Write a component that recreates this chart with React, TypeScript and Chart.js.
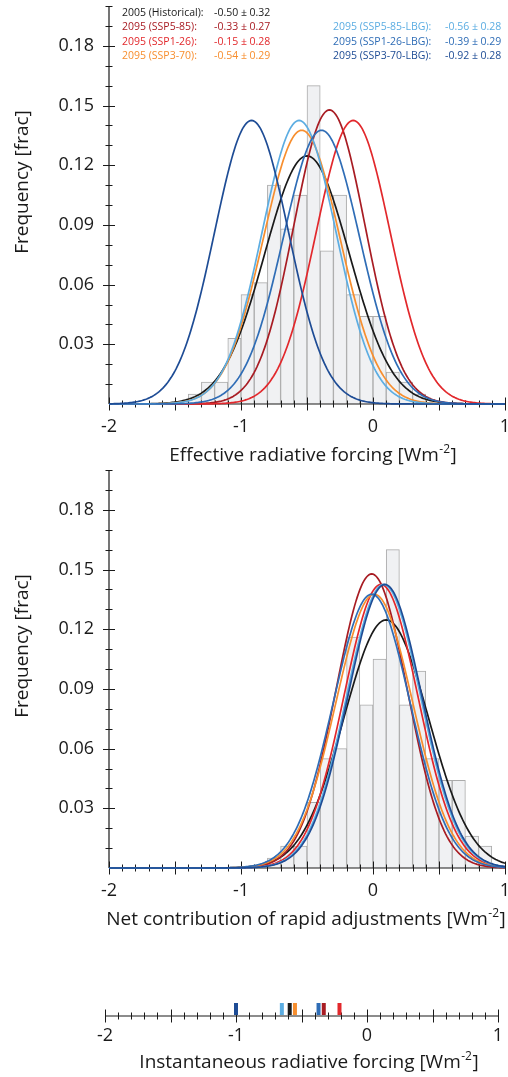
import React, { useEffect, useRef } from 'react';
import { Chart, registerables } from 'chart.js';

Chart.register(...registerables);

// ---------------- DATA ----------------
const seriesNames = [
  '2005 (Historical):',
  '2095 (SSP5-85):',
  '2095 (SSP1-26):',
  '2095 (SSP3-70):',
  '2095 (SSP5-85-LBG):',
  '2095 (SSP1-26-LBG):',
  '2095 (SSP3-70-LBG):',
];
const seriesColors = ['#1a1a1a', '#a81c23', '#e2282c', '#f78e2e', '#5cade2', '#2f6db6', '#1e4c95'];

// Fitted normal distributions (mean ± sd) shown as curves
const erfMeans = [-0.5, -0.33, -0.15, -0.54, -0.56, -0.39, -0.92];
const erfSigmas = [0.32, 0.27, 0.28, 0.29, 0.28, 0.29, 0.28];
const adjMeans = [0.1, -0.01, 0.06, 0.01, 0.08, -0.01, 0.09];
const adjSigmas = [0.32, 0.27, 0.28, 0.29, 0.28, 0.29, 0.28];

// Instantaneous radiative forcing values (strip marks)
const irfValues = [-0.59, -0.33, -0.21, -0.55, -0.65, -0.37, -1.0];

// Histograms (bin width 0.1)
const binWidth = 0.1;
const erfBinCenters = [-1.35, -1.25, -1.15, -1.05, -0.95, -0.85, -0.75, -0.65, -0.55, -0.45, -0.35, -0.25, -0.15, -0.05, 0.05, 0.15, 0.25, 0.35];
const erfFreq = [0.005, 0.011, 0.011, 0.033, 0.055, 0.061, 0.11, 0.088, 0.105, 0.16, 0.077, 0.105, 0.055, 0.044, 0.044, 0.016, 0.011, 0.005];
const adjBinCenters = [-0.75, -0.65, -0.55, -0.45, -0.35, -0.25, -0.15, -0.05, 0.05, 0.15, 0.25, 0.35, 0.45, 0.55, 0.65, 0.75, 0.85];
const adjFreq = [0.005, 0.011, 0.011, 0.033, 0.055, 0.06, 0.116, 0.082, 0.105, 0.16, 0.082, 0.099, 0.055, 0.044, 0.044, 0.016, 0.011];

// Axis ticks
const xTickValues = [-2, -1, 0, 1];
const xTickLabels = ['-2', '-1', '0', '1'];
const yTickValues = [0.03, 0.06, 0.09, 0.12, 0.15, 0.18];
const yTickLabels = ['0.03', '0.06', '0.09', '0.12', '0.15', '0.18'];
const xMin = -2;
const xMax = 1;
const yMax = 0.2;

const xTitles = ['Effective radiative forcing [Wm', 'Net contribution of rapid adjustments [Wm', 'Instantaneous radiative forcing [Wm'];
const unitSup = '-2';
const unitPost = ']';
const yTitle = 'Frequency [frac]';

// ---------------- HELPERS ----------------
const FONT = '"Open Sans", "Noto Sans", sans-serif';
const AXIS_COLOR = '#1a1a1a';
const TICK_SIZE = 18;
const TITLE_SIZE = 19;

function gaussCurve(m: number, s: number) {
  const pts: { x: number; y: number }[] = [];
  for (let i = 0; i <= 300; i++) {
    const x = xMin + (i * (xMax - xMin)) / 300;
    const y = (binWidth * Math.exp(-0.5 * ((x - m) / s) ** 2)) / (s * Math.sqrt(2 * Math.PI));
    pts.push({ x, y });
  }
  return pts;
}

function xLabel(v: number) {
  const i = xTickValues.findIndex((t) => Math.abs(t - v) < 1e-6);
  return i >= 0 ? xTickLabels[i] : '';
}
function yLabel(v: number) {
  const i = yTickValues.findIndex((t) => Math.abs(t - v) < 1e-6);
  return i >= 0 ? yTickLabels[i] : '';
}
function isMajorX(v: number) {
  return Math.abs(v * 2 - Math.round(v * 2)) < 1e-6;
}

function drawXAxis(ctx: CanvasRenderingContext2D, x: any, yb: number) {
  ctx.save();
  ctx.strokeStyle = AXIS_COLOR;
  ctx.lineWidth = 1.2;
  ctx.beginPath();
  ctx.moveTo(x.getPixelForValue(xMin), yb);
  ctx.lineTo(x.getPixelForValue(xMax), yb);
  ctx.stroke();
  ctx.lineWidth = 1;
  for (const t of x.ticks) {
    const px = Math.round(x.getPixelForValue(t.value)) + 0.5;
    const h = isMajorX(t.value) ? 6.5 : 3.5;
    ctx.beginPath();
    ctx.moveTo(px, yb - h);
    ctx.lineTo(px, yb + h);
    ctx.stroke();
  }
  ctx.restore();
}

function drawYAxis(ctx: CanvasRenderingContext2D, x: any, y: any) {
  const xl = x.getPixelForValue(xMin);
  ctx.save();
  ctx.strokeStyle = AXIS_COLOR;
  ctx.lineWidth = 1.2;
  ctx.beginPath();
  ctx.moveTo(xl, y.getPixelForValue(0));
  ctx.lineTo(xl, y.getPixelForValue(yMax));
  ctx.stroke();
  ctx.lineWidth = 1;
  for (const t of y.ticks) {
    if (t.value <= 0) continue;
    const py = Math.round(y.getPixelForValue(t.value)) + 0.5;
    const major = yLabel(t.value) !== '';
    const h = major ? 6 : 3.5;
    ctx.beginPath();
    ctx.moveTo(xl - h, py);
    ctx.lineTo(xl + h, py);
    ctx.stroke();
  }
  ctx.restore();
}

function drawUnitTitle(ctx: CanvasRenderingContext2D, pre: string, cx: number, baseY: number, size: number) {
  ctx.save();
  ctx.fillStyle = '#1a1a1a';
  ctx.textAlign = 'left';
  ctx.textBaseline = 'alphabetic';
  const big = `${size}px ${FONT}`;
  const small = `${Math.round(size * 0.62)}px ${FONT}`;
  ctx.font = big;
  const w1 = ctx.measureText(pre).width;
  const w3 = ctx.measureText(unitPost).width;
  ctx.font = small;
  const w2 = ctx.measureText(unitSup).width;
  const sx = cx - (w1 + w2 + w3 + 1) / 2;
  ctx.font = big;
  ctx.fillText(pre, sx, baseY);
  ctx.font = small;
  ctx.fillText(unitSup, sx + w1 + 0.5, baseY - size * 0.42);
  ctx.font = big;
  ctx.fillText(unitPost, sx + w1 + w2 + 1, baseY);
  ctx.restore();
}

function drawYTitle(ctx: CanvasRenderingContext2D, cx: number, cy: number, size: number) {
  ctx.save();
  ctx.translate(cx, cy);
  ctx.rotate(-Math.PI / 2);
  ctx.fillStyle = '#1a1a1a';
  ctx.font = `${size}px ${FONT}`;
  ctx.textAlign = 'center';
  ctx.textBaseline = 'middle';
  ctx.fillText(yTitle, 0, 0);
  ctx.restore();
}

function drawLegend(ctx: CanvasRenderingContext2D) {
  ctx.save();
  ctx.font = `10.5px ${FONT}`;
  ctx.textBaseline = 'middle';
  ctx.textAlign = 'left';
  const rowsY = [13.3, 27.5, 41.8, 56];
  const place = [
    { col: 0, row: 0 },
    { col: 0, row: 1 },
    { col: 0, row: 2 },
    { col: 0, row: 3 },
    { col: 1, row: 1 },
    { col: 1, row: 2 },
    { col: 1, row: 3 },
  ];
  const colX = [
    [122, 214],
    [333, 445],
  ];
  seriesNames.forEach((name, i) => {
    const p = place[i];
    ctx.fillStyle = seriesColors[i];
    ctx.fillText(name, colX[p.col][0], rowsY[p.row]);
    ctx.fillText(`${erfMeans[i].toFixed(2)} \u00b1 ${erfSigmas[i].toFixed(2)}`, colX[p.col][1], rowsY[p.row]);
  });
  ctx.restore();
}

function panelConfig(
  binCenters: number[],
  freq: number[],
  means: number[],
  sigmas: number[],
  titleIdx: number,
  titleCx: number,
  withLegend: boolean
): any {
  const datasets: any[] = [
    {
      type: 'bar',
      data: binCenters.map((c, i) => ({ x: c, y: freq[i] })),
      backgroundColor: '#f0f1f3',
      borderColor: '#ababab',
      borderWidth: 1,
      barPercentage: 1,
      categoryPercentage: 1,
      grouped: false,
      order: 100,
    },
  ];
  means.forEach((m, i) => {
    datasets.push({
      type: 'line',
      data: gaussCurve(m, sigmas[i]),
      borderColor: seriesColors[i],
      borderWidth: 1.7,
      pointRadius: 0,
      fill: false,
      tension: 0,
      clip: false,
      order: 50 - i,
    });
  });

  const plugin = {
    id: 'panelDeco' + titleIdx,
    afterDatasetDraw(chart: any, args: any) {
      if (args.meta.type !== 'bar') return;
      const { ctx, scales } = chart;
      drawYAxis(ctx, scales.x, scales.y);
      drawXAxis(ctx, scales.x, scales.y.getPixelForValue(0));
    },
    afterDraw(chart: any) {
      const { ctx } = chart;
      drawYTitle(ctx, 23, 182, TITLE_SIZE);
      drawUnitTitle(ctx, xTitles[titleIdx], titleCx, 460.5, TITLE_SIZE);
      if (withLegend) drawLegend(ctx);
    },
  };

  return {
    type: 'line',
    data: { datasets },
    options: {
      animation: false,
      responsive: false,
      devicePixelRatio: 1,
      events: [],
      layout: { padding: { left: 0, right: 3, top: 6, bottom: 0 } },
      plugins: { legend: { display: false }, tooltip: { enabled: false } },
      scales: {
        x: {
          type: 'linear',
          min: xMin,
          max: xMax,
          offset: false,
          grid: { display: false, drawTicks: false },
          border: { display: false },
          ticks: {
            stepSize: 0.1,
            autoSkip: false,
            maxRotation: 0,
            padding: 12,
            color: '#1a1a1a',
            font: { family: FONT, size: TICK_SIZE },
            callback: (v: number) => xLabel(v),
          },
          afterFit: (s: any) => {
            s.height = 66;
            s.paddingLeft = 0;
            s.paddingRight = 0;
          },
        },
        y: {
          type: 'linear',
          min: 0,
          max: yMax,
          grid: { display: false, drawTicks: false },
          border: { display: false },
          ticks: {
            stepSize: 0.01,
            autoSkip: false,
            padding: 15,
            color: '#1a1a1a',
            font: { family: FONT, size: TICK_SIZE },
            callback: (v: number) => yLabel(v),
          },
          afterFit: (s: any) => {
            s.width = 109;
            s.paddingTop = 0;
            s.paddingBottom = 0;
          },
        },
      },
    },
    plugins: [plugin],
  };
}

function stripConfig(): any {
  const datasets = irfValues.map((v, i) => ({
    type: 'scatter',
    data: [{ x: v, y: 0.5 }],
    pointStyle: 'line',
    rotation: 90,
    radius: 6,
    pointRadius: 6,
    borderWidth: 4,
    borderColor: seriesColors[i],
    backgroundColor: seriesColors[i],
    clip: false,
    order: 50 - i,
  }));
  const plugin = {
    id: 'stripDeco',
    beforeDatasetsDraw(chart: any) {
      const { ctx, scales, chartArea } = chart;
      drawXAxis(ctx, scales.x, chartArea.bottom);
    },
    afterDraw(chart: any) {
      drawUnitTitle(chart.ctx, xTitles[2], 309, 77.5, TITLE_SIZE);
    },
  };
  return {
    type: 'scatter',
    data: { datasets },
    options: {
      animation: false,
      responsive: false,
      devicePixelRatio: 1,
      events: [],
      layout: { padding: { left: 105, right: 4, top: 12, bottom: 0 } },
      plugins: { legend: { display: false }, tooltip: { enabled: false } },
      scales: {
        x: {
          type: 'linear',
          min: xMin,
          max: xMax,
          grid: { display: false, drawTicks: false },
          border: { display: false },
          ticks: {
            stepSize: 0.1,
            autoSkip: false,
            maxRotation: 0,
            padding: 9,
            color: '#1a1a1a',
            font: { family: FONT, size: TICK_SIZE },
            callback: (v: number) => xLabel(v),
          },
          afterFit: (s: any) => {
            s.height = 61;
            s.paddingLeft = 0;
            s.paddingRight = 0;
          },
        },
        y: { type: 'linear', min: 0, max: 1, display: false },
      },
    },
    plugins: [plugin],
  };
}

export default function App() {
  const r1 = useRef<HTMLCanvasElement>(null);
  const r2 = useRef<HTMLCanvasElement>(null);
  const r3 = useRef<HTMLCanvasElement>(null);

  useEffect(() => {
    const charts: Chart[] = [];
    if (r1.current) charts.push(new Chart(r1.current, panelConfig(erfBinCenters, erfFreq, erfMeans, erfSigmas, 0, 313, true)));
    if (r2.current) charts.push(new Chart(r2.current, panelConfig(adjBinCenters, adjFreq, adjMeans, adjSigmas, 1, 306, false)));
    if (r3.current) charts.push(new Chart(r3.current, stripConfig()));
    return () => charts.forEach((c) => c.destroy());
  }, []);

  return (
    <div style={{ position: 'absolute', left: 0, top: 0, width: 508, height: 1077, background: '#fff' }}>
      <canvas ref={r1} width={508} height={470} style={{ position: 'absolute', left: 0, top: 0 }} />
      <canvas ref={r2} width={508} height={470} style={{ position: 'absolute', left: 0, top: 464 }} />
      <canvas ref={r3} width={508} height={87} style={{ position: 'absolute', left: 0, top: 990 }} />
    </div>
  );
}
